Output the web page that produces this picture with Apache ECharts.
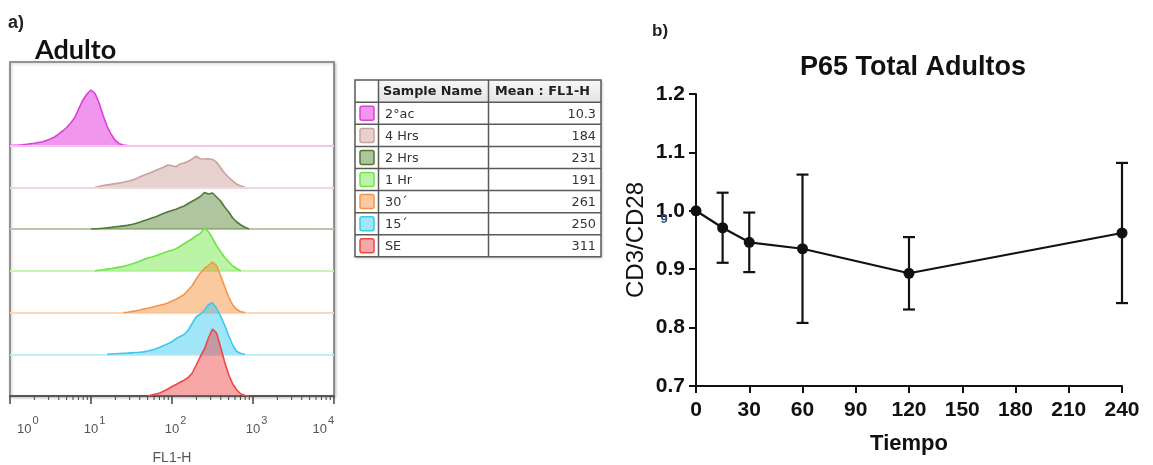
<!DOCTYPE html>
<html>
<head>
<meta charset="utf-8">
<script src="https://cdn.jsdelivr.net/npm/echarts@6/dist/echarts.min.js"></script>
<style>
  html, body { margin: 0; padding: 0; background: #fff; }
  #chart { width: 1153px; height: 465px; }
</style>
</head>
<body>
<div id="chart"></div>
<script>
// ---------- Panel a: FL1-H histograms, one per sample ----------
const sampleNames = ['2°ac', '4 Hrs', '2 Hrs', '1 Hr', '30´', '15´', 'SE'];
const meanFL1H = ['10.3', '184', '231', '191', '261', '250', '311'];

// Each histogram: first bin (log10 FL1-H) and counts per 0.05-decade bin
const binStep = 0.05;
const binStart = [0.00, 1.05, 1.00, 1.05, 1.40, 1.20, 1.70];
const counts2ac = [0, 0.3, 0.5, 0.8, 1.2, 1.8, 2.2, 3.0, 3.8, 5.0, 6.5, 8.5, 11.3, 14.5, 18, 22.5, 28, 37, 45.5, 51.5, 55.5, 52, 42.5, 30, 19, 11, 5, 1.8, 0.5, 0];
const counts4h = [0, 0.8, 1.8, 2.4, 3.0, 3.6, 4.3, 5.0, 6.0, 7.0, 8.3, 10.2, 12.0, 13.5, 15.0, 17.0, 18.5, 20.3, 22.3, 21.5, 20.5, 23.3, 24.2, 26.0, 28.3, 31.0, 28.5, 28.3, 28.5, 27.8, 25, 19.5, 14, 10, 6.2, 3, 1.2, 0];
const counts2h = [0, 0.3, 0.5, 0.8, 1.1, 1.6, 2.2, 2.6, 3.1, 3.6, 4.5, 5.5, 6.8, 8.2, 9.6, 11, 12.2, 14, 15.7, 17.2, 18.6, 19.8, 21.5, 23, 25.5, 27.8, 30, 32.5, 36.5, 35, 36, 32, 28, 22, 17, 11, 7, 4, 1.8, 0];
const counts1h = [0, 0.5, 1.0, 1.6, 2.2, 2.9, 3.6, 4.5, 5.6, 6.8, 8.1, 9.6, 11.3, 12.8, 13.8, 15, 16.5, 18, 19.5, 20.5, 22, 24.5, 27, 29.5, 32, 35, 37.3, 43, 39, 32.5, 25, 19, 13.5, 9, 4.8, 2, 0];
const counts30m = [0, 0.3, 1.0, 1.6, 2.5, 3.5, 4.3, 5.2, 6.2, 7.2, 8.2, 9.5, 11.5, 13.2, 15.5, 18, 22.5, 27, 33.5, 39.5, 44, 47, 50.5, 47, 37, 26, 15.5, 7.5, 3, 0.8, 0];
const counts15m = [0, 0.3, 0.5, 0.7, 0.9, 1.1, 1.4, 1.7, 2.0, 2.4, 3.2, 4.1, 5.4, 7.0, 8.7, 10.5, 12.5, 15.5, 17.8, 19.8, 24, 31, 37.5, 40, 44, 49.5, 51.5, 46, 38.3, 29, 18.5, 9, 2.8, 0.8, 0];
const countsSE = [0, 1.0, 2.0, 3.0, 5.0, 7.0, 9.5, 11.5, 13.7, 15.8, 18.5, 23, 31, 39.5, 47, 58, 67, 63, 49, 34, 21.3, 12, 6, 2, 0.5, 0];
const countsPerRow = 41.75;

const decades = [1, 10, 100, 1000];
const minorSteps = [2, 3, 4, 5, 6, 7, 8, 9];

// ---------- Panel b: P65 total, adults ----------
const timeMin = [0, 15, 30, 60, 120, 240];
const ratioMean = [1.0, 0.971, 0.946, 0.935, 0.893, 0.962];
const ratioSd = [0, 0.06, 0.051, 0.127, 0.062, 0.12];

// ---------- styling ----------
const lineColors = ['#dd3fdc', '#c9a29e', '#4e7b31', '#6ee447', '#f6954a', '#3cc8ef', '#ef4747'];
const fillColors = ['rgba(228,64,222,0.55)', 'rgba(196,140,134,0.4)', 'rgba(80,125,45,0.45)',
  'rgba(105,230,60,0.45)', 'rgba(245,135,45,0.45)', 'rgba(45,200,240,0.45)', 'rgba(240,60,60,0.45)'];
const baseColors = ['#f6c4f3', '#ecdbd9', '#b8c8ae', '#c8f4b8', '#fcd6b8', '#bdeefb', '#f6b3b3'];

const histCounts = [counts2ac, counts4h, counts2h, counts1h, counts30m, counts15m, countsSE];
const nRows = sampleNames.length;

const histSeries = histCounts.map((counts, i) => {
  const row = nRows - 1 - i;
  const s = {
    type: 'line', name: sampleNames[i], xAxisIndex: 0, yAxisIndex: 0,
    data: counts.map((c, j) => [Math.pow(10, binStart[i] + j * binStep), row + c / countsPerRow]),
    symbol: 'none', showSymbol: false, smooth: false, silent: true,
    lineStyle: { color: lineColors[i], width: 1.6 },
    areaStyle: { color: fillColors[i], origin: row, opacity: 1 },
    z: 3 + i, animation: false
  };
  if (row > 0) {
    s.markLine = {
      silent: true, symbol: 'none', animation: false,
      label: { show: false },
      lineStyle: { color: baseColors[i], width: 2, type: 'solid' },
      data: [{ yAxis: row }]
    };
  }
  return s;
});

const minorTickData = [];
decades.forEach(d => minorSteps.forEach(k => minorTickData.push([k * d, 0])));

// ---------- table next to the histograms ----------
const tableX = [355, 378.5, 488.5, 601];
const tableTop = 80, headH = 22.3, rowH = 22.07;
const tableBottom = tableTop + headH + rowH * nRows;
const tableFont = '"DejaVu Sans", Verdana, sans-serif';
const tableEls = [];
tableEls.push({ type: 'rect', shape: { x: tableX[0], y: tableTop, width: tableX[3] - tableX[0], height: tableBottom - tableTop },
  style: { fill: '#fff', stroke: 'none', shadowBlur: 3, shadowColor: 'rgba(0,0,0,0.25)', shadowOffsetX: 1, shadowOffsetY: 1 } });
tableEls.push({ type: 'rect', shape: { x: tableX[1], y: tableTop, width: tableX[3] - tableX[1], height: headH },
  style: { fill: { type: 'linear', x: 0, y: 0, x2: 0, y2: 1, colorStops: [{ offset: 0, color: '#f8f8f8' }, { offset: 1, color: '#e3e3e3' }] } } });
for (let r = 0; r < nRows; r++) {
  const y = tableTop + headH + r * rowH;
  tableEls.push({ type: 'line', shape: { x1: tableX[0], y1: y, x2: tableX[3], y2: y }, style: { stroke: '#5a5a5a', lineWidth: 1.5 } });
}
[tableX[1], tableX[2]].forEach(x => tableEls.push({ type: 'line', shape: { x1: x, y1: tableTop, x2: x, y2: tableBottom }, style: { stroke: '#5a5a5a', lineWidth: 1.5 } }));
tableEls.push({ type: 'rect', shape: { x: tableX[0], y: tableTop, width: tableX[3] - tableX[0], height: tableBottom - tableTop },
  style: { fill: 'none', stroke: '#5a5a5a', lineWidth: 1.5 } });
tableEls.push({ type: 'text', x: 383, y: tableTop + headH / 2 + 1, style: { text: 'Sample Name', font: 'bold 12.8px ' + tableFont, fill: '#222', verticalAlign: 'middle', align: 'left' } });
tableEls.push({ type: 'text', x: 495, y: tableTop + headH / 2 + 1, style: { text: 'Mean : FL1-H', font: 'bold 12.8px ' + tableFont, fill: '#222', verticalAlign: 'middle', align: 'left' } });
sampleNames.forEach((name, r) => {
  const cy = tableTop + headH + (r + 0.5) * rowH;
  tableEls.push({ type: 'rect', shape: { x: 360, y: cy - 7, width: 14, height: 14, r: 2 },
    style: { fill: fillColors[r], stroke: lineColors[r], lineWidth: 1.5 } });
  tableEls.push({ type: 'text', x: 385, y: cy + 1, style: { text: name, font: '12.8px ' + tableFont, fill: '#333', verticalAlign: 'middle', align: 'left' } });
  tableEls.push({ type: 'text', x: 596, y: cy + 1, style: { text: meanFL1H[r], font: '12.8px ' + tableFont, fill: '#333', verticalAlign: 'middle', align: 'right' } });
});

const boldSans = '"Liberation Sans", Arial, sans-serif';

const option = {
  backgroundColor: '#fff',
  animation: false,
  title: [
    { text: 'Adulto', left: 35, top: 37, padding: 0,
      textStyle: { fontFamily: 'Lato, "Noto Sans", sans-serif', fontWeight: 'bold', fontSize: 27, color: '#111' } },
    { text: 'P65 Total Adultos', left: 913, top: 54, textAlign: 'center', padding: 0,
      textStyle: { fontFamily: boldSans, fontWeight: 'bold', fontSize: 27, color: '#111' } }
  ],
  grid: [
    { left: 10, top: 62, width: 324, height: 334, show: true, backgroundColor: '#fff',
      borderColor: '#777', borderWidth: 1.5, outerBoundsMode: 'none',
      shadowBlur: 3, shadowColor: 'rgba(0,0,0,0.25)', shadowOffsetX: 1, shadowOffsetY: 1 },
    { left: 696, top: 94, width: 426, height: 292, outerBoundsMode: 'none' }
  ],
  xAxis: [
    { gridIndex: 0, type: 'log', logBase: 10, min: 1, max: 10000,
      name: 'FL1-H', nameLocation: 'middle', nameGap: 55,
      nameTextStyle: { fontFamily: boldSans, fontSize: 14, color: '#555' },
      axisLine: { show: true, lineStyle: { color: '#444', width: 1.5 } },
      axisTick: { show: true, inside: false, length: 8, lineStyle: { color: '#444', width: 1.5 } },
      splitLine: { show: false },
      axisLabel: {
        margin: 19, alignMinLabel: 'left', alignMaxLabel: 'right', hideOverlap: false,
        formatter: v => '{b|10}{s|' + Math.round(Math.log10(v)) + '}',
        rich: {
          b: { fontFamily: boldSans, fontSize: 13, color: '#555', lineHeight: 21, verticalAlign: 'bottom', padding: [0, 0, 0, 7] },
          s: { fontFamily: boldSans, fontSize: 11, color: '#555', lineHeight: 12, verticalAlign: 'top', padding: [0, 0, 0, 1] }
        }
      } },
    { gridIndex: 1, type: 'value', min: 0, max: 240, interval: 30,
      name: 'Tiempo', nameLocation: 'middle', nameGap: 47,
      nameTextStyle: { fontFamily: boldSans, fontWeight: 'bold', fontSize: 22, color: '#111' },
      axisLine: { show: true, onZero: false, lineStyle: { color: '#111', width: 2 } },
      axisTick: { show: true, length: 7, lineStyle: { color: '#111', width: 2 } },
      splitLine: { show: false },
      axisLabel: { margin: 14, fontFamily: boldSans, fontWeight: 'bold', fontSize: 21, color: '#111', hideOverlap: false } }
  ],
  yAxis: [
    { gridIndex: 0, type: 'value', min: 0, max: 8, show: false },
    { gridIndex: 1, type: 'value', min: 0.7, max: 1.2, interval: 0.1,
      name: 'CD3/CD28', nameLocation: 'middle', nameGap: 48, nameRotate: 90,
      nameTextStyle: { fontFamily: boldSans, fontSize: 24, color: '#111' },
      axisLine: { show: true, onZero: false, lineStyle: { color: '#111', width: 2 } },
      axisTick: { show: true, length: 7, lineStyle: { color: '#111', width: 2 } },
      splitLine: { show: false },
      axisLabel: { margin: 11, fontFamily: boldSans, fontWeight: 'bold', fontSize: 21, color: '#111',
        formatter: v => v.toFixed(1) } }
  ],
  series: histSeries.concat([
    { type: 'custom', name: 'minor ticks', xAxisIndex: 0, yAxisIndex: 0, data: minorTickData,
      silent: true, clip: false, z: 20,
      renderItem: (params, api) => {
        const p = api.coord([api.value(0), 0]);
        return { type: 'line', shape: { x1: p[0], y1: p[1], x2: p[0], y2: p[1] + 4 },
          style: { stroke: '#444', lineWidth: 1 } };
      } },
    { type: 'custom', name: 'SD', xAxisIndex: 1, yAxisIndex: 1,
      data: timeMin.map((t, i) => [t, ratioMean[i] - ratioSd[i], ratioMean[i] + ratioSd[i]]),
      encode: { x: 0, y: [1, 2] }, silent: true, clip: false, z: 10,
      renderItem: (params, api) => {
        const lo = api.value(1), hi = api.value(2);
        if (hi - lo <= 0) return null;
        const top = api.coord([api.value(0), hi]);
        const bot = api.coord([api.value(0), lo]);
        const w = 6;
        const st = { stroke: '#111', lineWidth: 2.2 };
        return { type: 'group', children: [
          { type: 'line', shape: { x1: top[0], y1: top[1], x2: bot[0], y2: bot[1] }, style: st },
          { type: 'line', shape: { x1: top[0] - w, y1: top[1], x2: top[0] + w, y2: top[1] }, style: st },
          { type: 'line', shape: { x1: bot[0] - w, y1: bot[1], x2: bot[0] + w, y2: bot[1] }, style: st }
        ] };
      } },
    { type: 'line', name: 'P65', xAxisIndex: 1, yAxisIndex: 1,
      data: timeMin.map((t, i) => [t, ratioMean[i]]),
      symbol: 'circle', symbolSize: 11, clip: false, z: 12,
      itemStyle: { color: '#111' }, lineStyle: { color: '#111', width: 2.2 } }
  ]),
  graphic: [
    { type: 'text', x: 8, y: 23, style: { text: 'a)', font: 'bold 18px ' + boldSans, fill: '#222', verticalAlign: 'middle' } },
    { type: 'text', x: 652, y: 31, style: { text: 'b)', font: 'bold 17px ' + boldSans, fill: '#222', verticalAlign: 'middle' } },
    { type: 'text', x: 664, y: 219, z: 50, style: { text: '9', font: 'bold 13px ' + boldSans, fill: '#2d4c7c', align: 'center', verticalAlign: 'middle' } },
    { type: 'group', children: tableEls }
  ]
};

const chart = echarts.init(document.getElementById('chart'));
chart.setOption(option);
</script>
</body>
</html>
